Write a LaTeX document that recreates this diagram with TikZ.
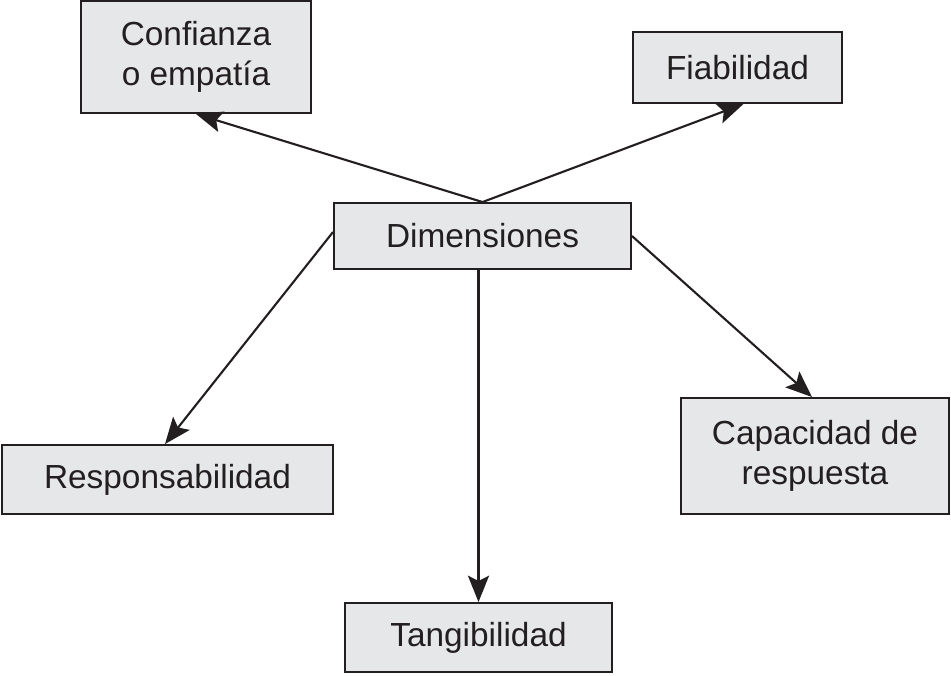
\documentclass[tikz,border=0pt]{standalone}
\usepackage{fontspec}
\setmainfont{Liberation Sans}
\usetikzlibrary{arrows.meta}
\definecolor{boxgray}{HTML}{E6E7E8}
\definecolor{ink}{HTML}{231F20}

\begin{document}
\begin{tikzpicture} [box/.style={draw=ink, fill=boxgray, line width=1.1pt, text=ink, align=center, font=\fontsize{19}{22.7}\selectfont, inner sep=0pt},
  arr/.style={draw=ink, line width=1.2pt, -{Stealth[length=15pt,width=12pt,inset=3pt]}}]
%\draw [help lines, step=1cm](0,-13.5) grid (19.02,0);
\useasboundingbox (0,0) rectangle (19.02,-13.5);

\node [box, minimum width=5.94cm, minimum height=1.32cm] (dim) at (9.65,-4.72) {Dimensiones};
\node [box, minimum width=4.6cm, minimum height=2.24cm] (conf) at (3.92,-1.14) {Confianza\\o empatía};
\node [box, minimum width=4.18cm, minimum height=1.42cm] (fiab) at (14.75,-1.35) {Fiabilidad};
\node [box, minimum width=6.62cm, minimum height=1.38cm] (resp) at (3.35,-9.59) {Responsabilidad};
\node [box, minimum width=5.36cm, minimum height=2.32cm] (capa) at (16.30,-9.12) {Capacidad de\\respuesta};
\node [box, minimum width=5.34cm, minimum height=1.38cm] (tang) at (9.57,-12.75) {Tangibilidad};

\draw [arr] (dim.north) -- (conf.south);
\draw [arr] (dim.north) -- ([xshift=0.12cm]fiab.south);
\draw [arr] ([yshift=0.08cm]dim.west) -- ([xshift=-0.05cm]resp.north);
\draw [arr] (dim.east) -- ([xshift=-0.06cm]capa.north);
\draw [arr] (dim.south -| tang.north) -- (tang.north);

\end{tikzpicture}
\end{document}
